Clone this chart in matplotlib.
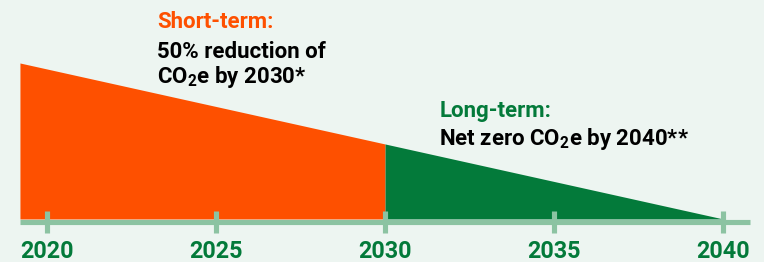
import numpy as np
import matplotlib
matplotlib.use("Agg")
import matplotlib.pyplot as plt

# emissions path (% of 2020 level)
years = [2019.2, 2030, 2040]
emissions = [104, 50, 0]

tick_years = [2020, 2025, 2030, 2035, 2040]
tick_labels = ["2020", "2025", "2030", "2035", "2040"]

bg = "#EDF5F1"
orange = "#FE5000"
green = "#037A3A"
axis_green = "#8CC3A2"

plt.rcParams["font.family"] = ["Roboto", "DejaVu Sans"]
plt.rcParams["mathtext.fontset"] = "custom"
plt.rcParams["mathtext.rm"] = "Roboto:bold"
plt.rcParams["mathtext.it"] = "Roboto:bold"
plt.rcParams["mathtext.bf"] = "Roboto:bold"

fig = plt.figure(figsize=(7.64, 2.62), dpi=100, facecolor=bg)
ax = fig.add_axes([0, 0, 1, 1])
ax.set_facecolor(bg)
ax.set_xlim(2018.61, 2041.21)
ax.set_ylim(-28.7, 146)
ax.axis("off")

x = np.asarray(years, dtype=float)
y = np.asarray(emissions, dtype=float)
# short-term part up to 2030, long-term part after
ax.fill_between(x[:2], y[:2], 0, color=orange, lw=0)
ax.fill_between(x[1:], y[1:], 0, color=green, lw=0)

# timeline
ax.plot([2019.2, 2040.8], [-1.7, -1.7], color=axis_green, lw=3.7,
        solid_capstyle="butt")
for t, lab in zip(tick_years, tick_labels):
    ax.plot([t, t], [5.3, -9.3], color=axis_green, lw=3.7, solid_capstyle="butt")
    ax.text(t, -26.2, lab, ha="center", va="baseline", color=green,
            fontsize=16.8, fontweight="bold")

# annotations
fs = 16.0
ax.text(2023.25, 127.5, "Short-term:", color=orange, fontsize=fs,
        fontweight="bold", va="baseline")
ax.text(2023.25, 107.5, "50% reduction of", color="black", fontsize=fs,
        fontweight="bold", va="baseline")
ax.text(2023.25, 90.7, "CO$_2$e by 2030*", color="black", fontsize=fs,
        fontweight="bold", va="baseline")

ax.text(2031.6, 68, "Long-term:", color=green, fontsize=fs,
        fontweight="bold", va="baseline")
ax.text(2031.6, 49.3, "Net zero CO$_2$e by 2040**", color="black",
        fontsize=fs, fontweight="bold", va="baseline")

fig.savefig("out.png", dpi=100, facecolor=bg)
